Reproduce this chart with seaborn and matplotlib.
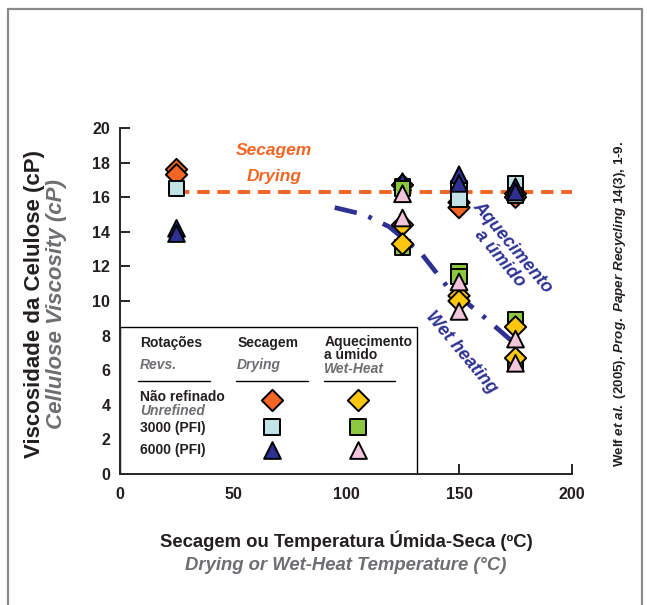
import numpy as np
import pandas as pd
import matplotlib
matplotlib.use('Agg')
import matplotlib.pyplot as plt
import seaborn as sns
from matplotlib.lines import Line2D
from matplotlib.patches import Rectangle
from matplotlib import font_manager

# ---- data ----
temps_dry_unref = [25, 25, 125, 150, 150, 175, 175]
visc_dry_unref = [17.6, 17.3, 16.7, 15.7, 15.4, 16.2, 16.0]
temps_dry_3000 = [25, 125, 150, 150, 175, 175]
visc_dry_3000 = [16.5, 16.6, 16.5, 15.9, 16.8, 16.1]
temps_dry_6000 = [25, 25, 125, 150, 150, 175, 175]
visc_dry_6000 = [14.2, 13.9, 16.9, 17.3, 16.8, 16.6, 16.3]

temps_wet = [125, 125, 150, 150, 175, 175]
visc_wet_unref = [14.4, 13.3, 10.3, 10.0, 8.5, 6.7]
visc_wet_3000 = [16.5, 13.1, 11.7, 11.4, 8.9, 6.4]
visc_wet_6000 = [16.2, 14.8, 11.1, 9.4, 7.8, 6.4]

drying_level = 16.3
drying_x = [25, 200]
wet_curve_x = [95, 108, 119, 133, 145, 160, 175]
wet_curve_y = [15.4, 15.0, 14.3, 12.8, 10.8, 9.2, 7.5]

x_ticks = [0, 50, 100, 150, 200]
y_ticks = list(range(0, 21, 2))

# ---- style ----
sns.set_style('ticks')
avail = {f.name for f in font_manager.fontManager.ttflist}
base = 'Liberation Sans' if 'Liberation Sans' in avail else 'DejaVu Sans'
plt.rcParams['font.family'] = [base, 'DejaVu Sans']
plt.rcParams['mathtext.fontset'] = 'custom'
plt.rcParams['mathtext.rm'] = base + ':bold'
plt.rcParams['mathtext.it'] = base + ':italic:bold'

ORANGE = '#f26522'
LBLUE = '#c2e3e5'
NAVY = '#2e3192'
YELLOW = '#fdc70f'
GREEN = '#8dc63f'
PINK = '#f3c5dc'
GREY = '#6d6e71'
INK = '#231f20'

rows = []
def add(xs, ys, key):
    for a, b in zip(xs, ys):
        rows.append({'temp': a, 'visc': b, 'series': key})

# drawing order decides which marker sits on top
add(temps_dry_unref, visc_dry_unref, 'dry_unref')
add(temps_dry_3000, visc_dry_3000, 'dry_3000')
add(temps_dry_6000, visc_dry_6000, 'dry_6000')
add(temps_wet, visc_wet_3000, 'wet_3000')
add(temps_wet, visc_wet_unref, 'wet_unref')
add(temps_wet, visc_wet_6000, 'wet_6000')
df = pd.DataFrame(rows)

palette = {'dry_unref': ORANGE, 'dry_3000': LBLUE, 'dry_6000': NAVY,
           'wet_unref': YELLOW, 'wet_3000': GREEN, 'wet_6000': PINK}
markers = {'dry_unref': 'D', 'wet_unref': 'D', 'dry_3000': 's', 'wet_3000': 's',
           'dry_6000': '^', 'wet_6000': '^'}
msize = {'D': 118, 's': 122, '^': 145}
sizes = {k: msize[v] for k, v in markers.items()}

fig = plt.figure(figsize=(6.47, 6.05), dpi=100)
ax = fig.add_axes([0.1855, 0.2165, 0.6986, 0.5719])

# reference lines
ax.plot(drying_x, [drying_level] * 2, color=ORANGE, lw=2.8,
        dashes=(3.2, 2.0), zorder=1.2)
ax.plot(wet_curve_x, wet_curve_y, color=NAVY, lw=3.4,
        dashes=(4.8, 2.6, 0.8, 2.6), zorder=1.2)

# all series in one call so row order controls overlap
sns.scatterplot(data=df, x='temp', y='visc', hue='series', style='series',
                size='series', palette=palette, markers=markers, sizes=sizes,
                edgecolor='black', linewidth=1.4, zorder=3, legend=False, ax=ax)

ax.set_xlim(0, 200)
ax.set_ylim(0, 20)
ax.set_xticks(x_ticks)
ax.set_yticks(y_ticks)
ax.tick_params(direction='in', length=7, width=1.4, labelsize=11.5,
               labelcolor=INK)
ax.tick_params(axis='x', pad=9)
ax.tick_params(axis='y', pad=7)
for lab in ax.get_xticklabels() + ax.get_yticklabels():
    lab.set_fontweight('bold')
for s in ['top', 'right']:
    ax.spines[s].set_visible(False)
for s in ['left', 'bottom']:
    ax.spines[s].set_linewidth(1.4)
ax.set_xlabel('')
ax.set_ylabel('')

# annotations
ax.text(68, 18.7, 'Secagem', color=ORANGE, fontsize=12.5, fontweight='bold',
        style='italic', ha='center', va='center')
ax.text(68, 17.2, 'Drying', color=ORANGE, fontsize=12.5, fontweight='bold',
        style='italic', ha='center', va='center')
ax.text(171, 12.8, 'Aquecimento\na úmido', color=NAVY, fontsize=13,
        fontweight='bold', style='italic', ha='center', va='center',
        rotation=-50, linespacing=1.0, rotation_mode='anchor')
ax.text(151, 7.0, 'Wet heating', color=NAVY, fontsize=13,
        fontweight='bold', style='italic', ha='center', va='center',
        rotation=-50, rotation_mode='anchor')

# legend box
ax.add_patch(Rectangle((0, 0), 0.657, 0.425, transform=ax.transAxes,
                       facecolor='white', edgecolor='black', lw=1.0,
                       zorder=1.0))
lk = dict(transform=ax.transAxes, fontsize=10, fontweight='bold',
          va='center', ha='left', zorder=4, color=INK)
gk = dict(lk, color=GREY, style='italic')
ax.text(0.044, 0.379, 'Rotações', **lk)
ax.text(0.259, 0.379, 'Secagem', **lk)
ax.text(0.452, 0.362, 'Aquecimento\na úmido', linespacing=0.95, **lk)
ax.text(0.044, 0.314, 'Revs.', **gk)
ax.text(0.259, 0.314, 'Drying', **gk)
ax.text(0.452, 0.304, 'Wet-Heat', **gk)
for x0, x1 in [(0.040, 0.199), (0.257, 0.416), (0.451, 0.608)]:
    ax.plot([x0, x1], [0.269, 0.269], color='black', lw=1.0,
            transform=ax.transAxes, zorder=4)
ax.text(0.044, 0.224, 'Não refinado', **lk)
ax.text(0.044, 0.183, 'Unrefined', **gk)
ax.text(0.044, 0.133, '3000 (PFI)', **lk)
ax.text(0.044, 0.068, '6000 (PFI)', **lk)
row_y = {'unref': 0.214, '3000': 0.136, '6000': 0.069}
for key in palette:
    kind, lvl = key.split('_')
    ax.scatter([0.336 if kind == 'dry' else 0.527], [row_y[lvl]], s=sizes[key],
               marker=markers[key], color=palette[key], edgecolor='black',
               linewidth=1.4, transform=ax.transAxes, zorder=5, clip_on=False)

# axis titles
xt = dict(fontsize=13.3, fontweight='bold', ha='center', va='center')
fig.text(0.535, 0.106, 'Secagem ou Temperatura Úmida-Seca (ºC)', color=INK, **xt)
fig.text(0.535, 0.066, 'Drying or Wet-Heat Temperature (°C)',
         style='italic', color=GREY, **xt)
yt = dict(fontsize=16, fontweight='bold', ha='center', va='center', rotation=90)
fig.text(0.054, 0.497, 'Viscosidade da Celulose (cP)', color=INK, **yt)
fig.text(0.088, 0.497, 'Cellulose Viscosity (cP)', style='italic',
         color=GREY, **yt)

# citation
fig.text(0.958, 0.497,
         r'Welf $\mathit{et\ al.}$ (2005). $\mathit{Prog.\ Paper\ Recycling}$ 14(3), 1-9.',
         fontsize=9.6, fontweight='bold', rotation=90, ha='center',
         va='center', color=INK)

# outer frame
for xs, ys in [([0.013, 0.013], [0.0, 0.985]), ([0.013, 0.993], [0.985, 0.985]),
               ([0.993, 0.993], [0.985, 0.0])]:
    fig.add_artist(Line2D(xs, ys, color='#8a8a8a', lw=1.6,
                          transform=fig.transFigure))

fig.savefig('out.png', dpi=100)
